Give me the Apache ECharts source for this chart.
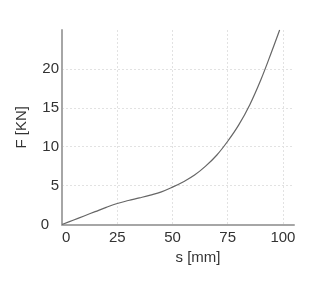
<!DOCTYPE html>
<html>
<head>
<meta charset="utf-8">
<script src="https://cdn.jsdelivr.net/npm/echarts@6/dist/echarts.min.js"></script>
<style>html,body{margin:0;padding:0;background:#fff}#c{width:324px;height:284px}</style>
</head>
<body>
<div id="c"></div>
<script>
const sValues = [0, 5, 10, 15, 20, 25, 30, 35, 40, 45, 50, 55, 60, 65, 70, 75, 80, 85, 90, 95, 98.5];
const fValues = [0, 0.55, 1.1, 1.65, 2.2, 2.7, 3.08, 3.42, 3.78, 4.2, 4.8, 5.5, 6.35, 7.5, 8.9, 10.7, 12.8, 15.4, 18.6, 22.3, 25];
const xTicks = [0, 25, 50, 75, 100];
const yTicks = [0, 5, 10, 15, 20];
const xName = 's [mm]';
const yName = 'F [KN]';

const chart = echarts.init(document.getElementById('c'), null, {renderer: 'canvas'});
const font = 'Liberation Sans, Arial, sans-serif';
chart.setOption({
  animation: false,
  grid: {left: 62, right: 30, top: 30, bottom: 59.5},
  xAxis: {
    type: 'value', min: 0, max: 105, interval: 25,
    name: xName, nameLocation: 'middle', nameGap: 21,
    nameTextStyle: {fontFamily: font, fontSize: 15, color: '#333', padding: [0, 0, 0, 40]},
    axisLine: {lineStyle: {color: '#a6a6a6', width: 2}},
    axisTick: {show: false},
    axisLabel: {
      fontFamily: font, fontSize: 15, color: '#333', margin: 6,
      showMaxLabel: false, alignMinLabel: 'left',
      formatter: v => xTicks.includes(v) ? String(v) : ''
    },
    splitLine: {show: true, showMaxLine: false, lineStyle: {color: '#e2e2e2', type: [2, 2], width: 1}}
  },
  yAxis: {
    type: 'value', min: 0, max: 25, interval: 5,
    name: yName, nameLocation: 'middle', nameGap: 24,
    nameTextStyle: {fontFamily: font, fontSize: 15, color: '#333'},
    axisLine: {show: true, lineStyle: {color: '#a6a6a6', width: 2}},
    axisTick: {show: false},
    axisLabel: {
      fontFamily: font, fontSize: 15, color: '#333', margin: 3,
      showMaxLabel: false,
      formatter: v => v === 0 ? '{z|0}' : (yTicks.includes(v) ? String(v) : ''),
      rich: {z: {fontFamily: font, fontSize: 15, color: '#333', padding: [0, 10, 0, 0]}}
    },
    splitLine: {show: true, showMaxLine: false, lineStyle: {color: '#e2e2e2', type: [2, 2], width: 1}}
  },
  series: [{
    type: 'line',
    data: sValues.map((s, i) => [s, fValues[i]]),
    smooth: 0.4,
    showSymbol: false,
    lineStyle: {color: '#666', width: 1.2},
    clip: false
  }]
});
</script>
</body>
</html>
